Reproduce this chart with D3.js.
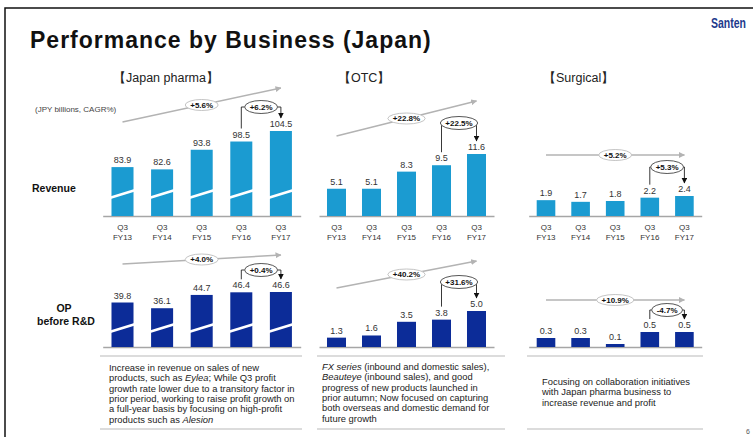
<!DOCTYPE html>
<html>
<head>
<meta charset="utf-8">
<script src="https://cdn.jsdelivr.net/npm/d3@7"></script>
<style>
  body { margin: 0; background: #fff; }
  svg { display: block; font-family: "Liberation Sans", Arial, sans-serif; }
</style>
</head>
<body>
<div id="chart"></div>
<script>
// data (JPY billions)
const years = ["FY13", "FY14", "FY15", "FY16", "FY17"]
const segments = ["Japan pharma", "OTC", "Surgical"]
const pharmaRevenue = [83.9, 82.6, 93.8, 98.5, 104.5]
const otcRevenue = [5.1, 5.1, 8.3, 9.5, 11.6]
const surgicalRevenue = [1.9, 1.7, 1.8, 2.2, 2.4]
const pharmaOP = [39.8, 36.1, 44.7, 46.4, 46.6]
const otcOP = [1.3, 1.6, 3.5, 3.8, 5.0]
const surgicalOP = [0.3, 0.3, 0.1, 0.5, 0.5]
const revenueCagr = ["+5.6%", "+22.8%", "+5.2%"]
const revenueYoy = ["+6.2%", "+22.5%", "+5.3%"]
const opCagr = ["+4.0%", "+40.2%", "+10.9%"]
const opYoy = ["+0.4%", "+31.6%", "-4.7%"]
const pharmaNote = [
  "Increase in revenue on sales of new",
  "products, such as *Eylea*; While Q3 profit",
  "growth rate lower due to a transitory factor in",
  "prior period, working to raise profit growth on",
  "a full-year basis by focusing on high-profit",
  "products such as *Alesion*"
]
const otcNote = [
  "*FX series* (inbound and domestic sales),",
  "*Beauteye* (inbound sales), and good",
  "progress of new products launched in",
  "prior autumn; Now focused on capturing",
  "both overseas and domestic demand for",
  "future growth"
]
const surgicalNote = [
  "Focusing on collaboration initiatives",
  "with Japan pharma business to",
  "increase revenue and profit"
]

const W = 753, H = 437
const revBase = 216, opBase = 347
const revColor = "#1b9bd1", opColor = "#0c2c98"
const axisColor = "#a6a6a6", textColor = "#333"

// layout of each business block
const panels = [
  { x0: 102.7, x1: 300.7, pad: 0.444, titleX: 113, box: [100, 302], noteX: 109, noteY: 371,
    revenue: pharmaRevenue, op: pharmaOP, note: pharmaNote, broken: true,
    rev: { floor: 56, top: 131, cagrY: [122, 88], yoyY: 107, breakY: 194 },
    opr: { floor: 11, top: 292, cagrY: [264, 255], yoyY: 270, breakY: 328 } },
  { x0: 319, x1: 494, pad: 0.457, titleX: 338, box: [317, 505], noteX: 322, noteY: 370,
    revenue: otcRevenue, op: otcOP, note: otcNote, broken: false,
    rev: { floor: 0, top: 154, cagrY: [136, 101], yoyY: 123 },
    opr: { floor: 0, top: 311, cagrY: [288, 261], yoyY: 282 } },
  { x0: 528.7, x1: 701.7, pad: 0.462, titleX: 543, box: [527, 703], noteX: 542, noteY: 385,
    revenue: surgicalRevenue, op: surgicalOP, note: surgicalNote, broken: false,
    rev: { floor: 0, top: 196, cagrY: [155, 155], yoyY: 167 },
    opr: { floor: 0, top: 332, cagrY: [300, 300], yoyY: 310 } }
]

const svg = d3.select("#chart")
  .append("svg")
  .attr("width", W)
  .attr("height", H)

const defs = svg.append("defs")
const addMarker = (id, color, size) => {
  defs.append("marker")
    .attr("id", id)
    .attr("viewBox", "0 0 10 10")
    .attr("refX", 9).attr("refY", 5)
    .attr("markerUnits", "userSpaceOnUse")
    .attr("markerWidth", size).attr("markerHeight", size)
    .attr("orient", "auto")
    .append("path")
    .attr("d", "M0,0 L10,5 L0,10 z")
    .attr("fill", color)
}
addMarker("cagrArrow", "#b3b3b3", 6)
addMarker("yoyArrow", "#111", 6)

// frame
svg.append("path")
  .attr("d", `M5,${H} L5,8 L${W},8`)
  .attr("fill", "none")
  .attr("stroke", "#111")
  .attr("stroke-width", 1.5)

svg.append("text")
  .attr("x", 30).attr("y", 48)
  .attr("font-size", 23)
  .attr("font-weight", "bold")
  .attr("letter-spacing", 1)
  .attr("fill", "#111")
  .text("Performance by Business (Japan)")

// logo, squeezed horizontally
svg.append("text")
  .attr("transform", "translate(711,28) scale(0.7,1)")
  .attr("font-size", 15)
  .attr("font-weight", "bold")
  .attr("fill", "#1d3a8c")
  .text("Santen")

svg.append("text")
  .attr("x", 746).attr("y", 434)
  .attr("font-size", 7)
  .attr("fill", "#555")
  .text("6")

svg.append("text")
  .attr("x", 35).attr("y", 112)
  .attr("font-size", 8)
  .attr("fill", "#444")
  .text("(JPY billions, CAGR%)")

// row labels
svg.append("text")
  .attr("x", 32).attr("y", 191.5)
  .attr("font-size", 10.5).attr("font-weight", "bold").attr("fill", "#111")
  .text("Revenue")
svg.append("text")
  .attr("x", 64).attr("y", 312)
  .attr("text-anchor", "middle")
  .attr("font-size", 10.5).attr("font-weight", "bold").attr("fill", "#111")
  .text("OP")
svg.append("text")
  .attr("x", 66).attr("y", 325)
  .attr("text-anchor", "middle")
  .attr("font-size", 10.5).attr("font-weight", "bold").attr("fill", "#111")
  .text("before R&D")

const pill = (g, cx, cy, label, stroke, ry) => {
  const e = g.append("ellipse")
    .attr("cx", cx).attr("cy", cy)
    .attr("ry", ry)
    .attr("fill", "#fff")
    .attr("stroke", stroke)
    .attr("stroke-width", 0.9)
  const t = g.append("text")
    .attr("x", cx).attr("y", cy + 2.8)
    .attr("text-anchor", "middle")
    .attr("font-size", 8)
    .attr("font-weight", "bold")
    .attr("fill", "#111")
    .text(label)
  const rx = t.node().getComputedTextLength() / 2 + 5
  e.attr("rx", rx)
  return rx
}

const drawRow = (g, x, values, cfg, base, color, broken, cagr, yoy, withLabels) => {
  const y = d3.scaleLinear()
    .domain([cfg.floor, d3.max(values)])
    .range([base, cfg.top])

  const xAxis = g.append("g")
    .attr("transform", `translate(0,${base})`)
    .call(d3.axisBottom(x).tickSize(0).tickSizeOuter(0))
  xAxis.select(".domain")
    .attr("stroke", axisColor)
    .attr("stroke-width", 1.3)
  xAxis.attr("font-family", null).attr("font-size", 8)
  if (withLabels) {
    xAxis.selectAll(".tick text").each(function (d) {
      const t = d3.select(this).text(null).attr("dy", null).attr("y", null).attr("fill", textColor)
      t.append("tspan").attr("x", 0).attr("y", 13.5).text("Q3")
      t.append("tspan").attr("x", 0).attr("y", 24).text(d)
    })
  } else {
    xAxis.selectAll(".tick text").remove()
  }

  const data = years.map((d, i) => ({ year: d, value: values[i] }))

  g.append("g")
    .selectAll("rect")
    .data(data)
    .enter().append("rect")
    .attr("x", d => x(d.year))
    .attr("width", x.bandwidth())
    .attr("y", d => y(d.value))
    .attr("height", d => base - y(d.value))
    .attr("fill", color)

  // axis break marks
  if (broken) {
    g.append("g")
      .selectAll("path")
      .data(data)
      .enter().append("path")
      .attr("d", d => {
        const a = x(d.year) - 2, b = x(d.year) + x.bandwidth() + 2
        return `M${a},${cfg.breakY + 4} L${b},${cfg.breakY - 4}`
      })
      .attr("fill", "none")
      .attr("stroke", "#fff")
      .attr("stroke-width", 2.6)
  }

  g.append("g")
    .selectAll("text")
    .data(data)
    .enter().append("text")
    .attr("x", d => x(d.year) + x.bandwidth() / 2)
    .attr("y", d => y(d.value) - 4)
    .attr("text-anchor", "middle")
    .attr("font-size", 9)
    .attr("fill", textColor)
    .text(d => d.value.toFixed(1))

  // CAGR arrow
  const c0 = x(years[0]) + x.bandwidth() / 2
  const c1 = x(years[4]) + x.bandwidth() / 2
  g.append("line")
    .attr("x1", c0).attr("y1", cfg.cagrY[0])
    .attr("x2", c1).attr("y2", cfg.cagrY[1])
    .attr("stroke", "#b3b3b3")
    .attr("stroke-width", 1.5)
    .attr("marker-end", "url(#cagrArrow)")
  pill(g, (c0 + c1) / 2, (cfg.cagrY[0] + cfg.cagrY[1]) / 2, cagr, "#bdbdbd", 5.5)

  // year on year bracket
  const b4 = x(years[3]) + x.bandwidth() / 2
  const b5 = c1
  const ex = (b4 + b5) / 2
  const ey = cfg.yoyY
  const bracket = g.append("g")
  const rx = pill(bracket, ex, ey, yoy, "#444", 6.5)
  bracket.insert("path", "ellipse")
    .attr("d", `M${b4},${y(values[3]) - 13} L${b4},${ey} L${ex - rx},${ey}`)
    .attr("fill", "none").attr("stroke", "#222").attr("stroke-width", 0.9)
  bracket.insert("path", "ellipse")
    .attr("d", `M${ex + rx},${ey} L${b5},${ey} L${b5},${y(values[4]) - 13}`)
    .attr("fill", "none").attr("stroke", "#222").attr("stroke-width", 0.9)
    .attr("marker-end", "url(#yoyArrow)")
}

panels.forEach((p, i) => {
  const g = svg.append("g").attr("class", "panel")

  const x = d3.scaleBand()
    .domain(years)
    .range([p.x0, p.x1])
    .paddingInner(p.pad)
    .paddingOuter(p.pad / 2)

  g.append("text")
    .attr("x", p.titleX).attr("y", 82)
    .attr("font-size", 12.5)
    .attr("fill", "#222")
    .text("【" + segments[i] + "】")

  drawRow(g, x, p.revenue, p.rev, revBase, revColor, p.broken, revenueCagr[i], revenueYoy[i], true)
  drawRow(g, x, p.op, p.opr, opBase, opColor, p.broken, opCagr[i], opYoy[i], false)

  // note box
  ;[356, 429].forEach(yy => {
    g.append("line")
      .attr("x1", p.box[0]).attr("x2", p.box[1])
      .attr("y1", yy).attr("y2", yy)
      .attr("stroke", "#d0d0d0")
      .attr("stroke-width", 1.4)
  })
  p.note.forEach((line, j) => {
    const t = g.append("text")
      .attr("x", p.noteX).attr("y", p.noteY + j * 10.3)
      .attr("font-size", 9.4)
      .attr("fill", "#222")
    line.split("*").forEach((part, k) => {
      if (!part) return
      t.append("tspan")
        .attr("font-style", k % 2 ? "italic" : null)
        .text(part)
    })
  })
})
</script>
</body>
</html>
